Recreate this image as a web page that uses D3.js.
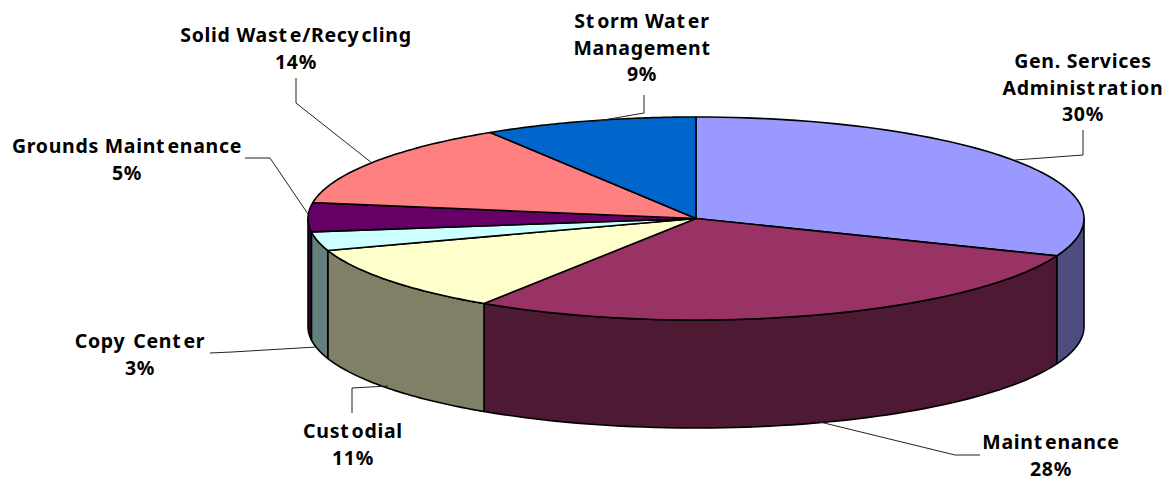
<!DOCTYPE html>
<html><head><meta charset="utf-8">
<script src="https://cdn.jsdelivr.net/npm/d3@7/dist/d3.min.js"></script>
<style>html,body{margin:0;background:#fff}svg{display:block}</style>
</head><body><svg id="c" width="1165" height="478"></svg>
<script>
const categories = ["Gen. Services Administration","Maintenance","Custodial","Copy Center","Grounds Maintenance","Solid Waste/Recycling","Storm Water Management"];
const shares = [31.0,28.2,10.7,3.0,4.6,13.6,8.9];
const percentLabels = ["30%","28%","11%","3%","5%","14%","9%"];
const topColors = ["#9999ff","#993366","#ffffcc","#ccffff","#660066","#ff8080","#0066cc"];
const sideColors = ["#4d4d80","#4d1933","#808066","#668080","#330033","#804040","#003366"];

// layout of the annotations, one entry per category
const labelLines = [["Gen. Services","Administration"],["Maintenance"],["Custodial"],["Copy Center"],["Grounds Maintenance"],["Solid Waste/Recycling"],["Storm Water","Management"]];
const labelPos = [[1083,68],[1051,449],[353,438],[140,348],[127,153],[296,42],[642,28]];
const leaders = [
 [[1083,130],[1083,155],[1015,160]],
 [[980,455],[955,455],[820,422]],
 [[352,413],[352,388],[388,386]],
 [[210,353],[232,352],[316,347]],
 [[245,158],[270,158],[308,214]],
 [[296,78],[296,103],[372,163]],
 [[644,95],[644,113],[592,122]]
];

const cx=696, cy=218.5, rx=388, ry=101.5, depth=108;
const svg=d3.select("#c");
const pie=d3.pie().sort(null).value(d=>d)(shares);
const px=t=>cx+rx*Math.sin(t), py=t=>cy-ry*Math.cos(t);
const line=d3.line();
const samples=(a,b)=>d3.range(0,61).map(i=>a+(b-a)*i/60);
const rim=(a,b,dy=0)=>samples(a,b).map(t=>[px(t),py(t)+dy]);

// side walls
const H=Math.PI/2;
pie.forEach((d,i)=>{
  const a=Math.max(d.startAngle,H), b=Math.min(d.endAngle,3*H);
  if(a>=b) return;
  const pts=rim(a,b).concat(rim(a,b,depth).reverse());
  svg.append("path").attr("d",line(pts)+"Z").attr("fill",sideColors[i])
     .attr("stroke","#000").attr("stroke-width",1.6).attr("stroke-linejoin","round");
});
// top slices
pie.forEach((d,i)=>{
  const pts=[[cx,cy]].concat(rim(d.startAngle,d.endAngle));
  svg.append("path").attr("d",line(pts)+"Z").attr("fill",topColors[i])
     .attr("stroke","#000").attr("stroke-width",1.6).attr("stroke-linejoin","round");
});
// leaders
leaders.forEach(l=>svg.append("path").attr("d",line(l)).attr("fill","none").attr("stroke","#222").attr("stroke-width",1));
// labels: the source font leaves a small gap after each "t" and "y"
const fs=19.5, lh=26.5;
function addLine(s,x,y){
  const t=svg.append("text").attr("x",x).attr("y",y).attr("text-anchor","middle")
    .attr("font-family","'Noto Sans'").attr("font-weight",700).attr("font-size",fs)
    .attr("letter-spacing",0.7).attr("fill","#000");
  s.split(/(?<=[ty])/).forEach((part,k)=>{ const sp=t.append("tspan").text(part); if(k>0) sp.attr("dx",2.2); });
}
categories.forEach((c,i)=>{
  const [x,y]=labelPos[i];
  const ls=labelLines[i].concat([percentLabels[i]]);
  ls.forEach((s,k)=>addLine(s,x,y+k*lh));
});
</script></body></html>
